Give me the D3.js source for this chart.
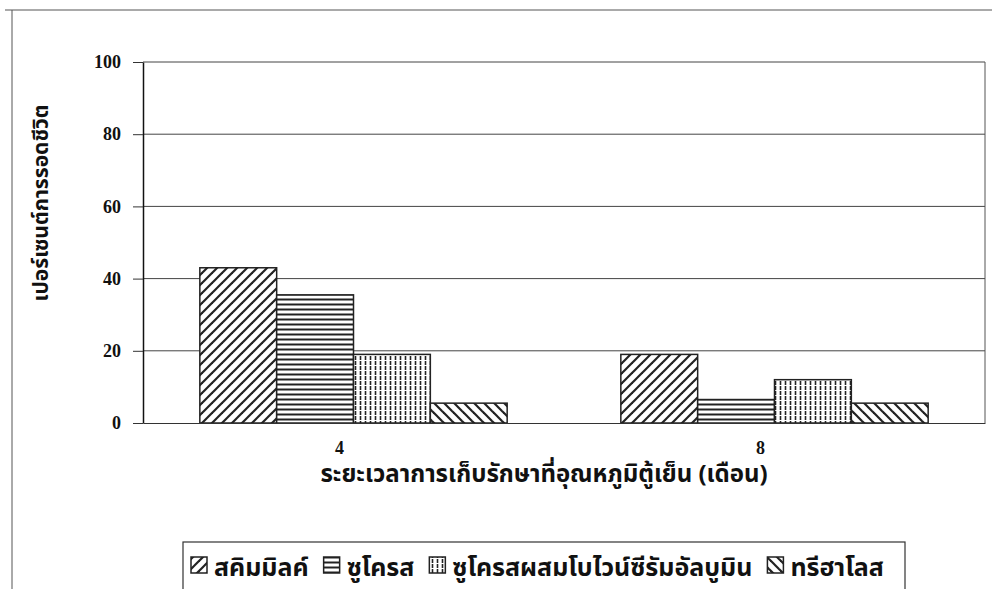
<!DOCTYPE html>
<html>
<head>
<meta charset="utf-8">
<script src="https://cdn.jsdelivr.net/npm/d3@7"></script>
<style>
body { margin: 0; background: #fff; }
svg { display: block; }
</style>
</head>
<body>
<div id="chart"></div>
<script>
// storage time at fridge temperature (months)
months = ["4", "8"]
seriesNames = ["สคิมมิลค์", "ซูโครส", "ซูโครสผสมโบไวน์ซีรัมอัลบูมิน", "ทรีฮาโลส"]
// survival percent per series, one value per month
skimMilk = [43, 19]
sucrose = [35.5, 6.5]
sucroseBsa = [19, 12]
trehalose = [5.5, 5.5]
yTicks = [0, 20, 40, 60, 80, 100]
xTitle = "ระยะเวลาการเก็บรักษาที่อุณหภูมิตู้เย็น (เดือน)"
yTitle = "เปอร์เซนต์การรอดชีวิต"

width = 993
height = 589
var margin = { top: 62, right: 8, bottom: 166, left: 143 }
var serif = "'Liberation Serif', 'Times New Roman', serif"
var thai = "'Noto Sans Thai', 'Noto Sans', 'DejaVu Sans', sans-serif"

var svg = d3.select("#chart").append("svg")
    .attr("width", width).attr("height", height)

var allSeries = [skimMilk, sucrose, sucroseBsa, trehalose]
var patternIds = ["hatchFwd", "hatchH", "hatchV", "hatchBack"]

// hatch patterns, one per series
var defs = svg.append("defs")
function addPattern(id, size, lines, sw, dash) {
    var p = defs.append("pattern").attr("id", id)
        .attr("patternUnits", "userSpaceOnUse")
        .attr("width", size).attr("height", size)
    p.append("rect").attr("width", size).attr("height", size).attr("fill", "#fff")
    lines.forEach(function (l) {
        p.append("line")
            .attr("x1", l[0]).attr("y1", l[1]).attr("x2", l[2]).attr("y2", l[3])
            .attr("stroke", "#222").attr("stroke-width", sw)
            .attr("stroke-dasharray", dash || null)
    })
}
addPattern("hatchFwd", 10, [[0, 10, 10, 0], [-1, 1, 1, -1], [9, 11, 11, 9]], 2.2)
addPattern("hatchH", 5, [[0, 2.5, 5, 2.5]], 2)
addPattern("hatchV", 5, [[2.5, 0, 2.5, 5]], 1.6, "3,1")
addPattern("hatchBack", 10, [[0, 0, 10, 10], [-1, 9, 1, 11], [9, -1, 11, 1]], 2.2)

// outer frame
svg.append("path")
    .attr("d", "M5,10 L992,10 M12,10 L12,589")
    .attr("stroke", "#555").attr("stroke-width", 1).attr("fill", "none")

var plotW = width - margin.left - margin.right
var plotH = height - margin.top - margin.bottom

var g = svg.append("g")
    .attr("transform", "translate(" + margin.left + "," + margin.top + ")")

var x0 = d3.scaleBand().domain(months).range([0, plotW])
    .paddingInner(0.27).paddingOuter(0.135)
var x1 = d3.scaleBand().domain(d3.range(allSeries.length)).range([0, x0.bandwidth()])
var y = d3.scaleLinear().domain([0, 100]).range([plotH, 0])

// gridlines
g.selectAll(".grid").data(yTicks.filter(function (d) { return d > 0 })).enter()
    .append("line")
    .attr("x1", 0).attr("x2", plotW)
    .attr("y1", function (d) { return y(d) }).attr("y2", function (d) { return y(d) })
    .attr("stroke", "#444").attr("stroke-width", 1)

// right border of plot area
g.append("line").attr("x1", plotW).attr("x2", plotW).attr("y1", 0).attr("y2", plotH)
    .attr("stroke", "#555").attr("stroke-width", 1)

// bars
var barData = []
months.forEach(function (m, i) {
    allSeries.forEach(function (s, j) {
        barData.push({ month: m, idx: j, value: s[i] })
    })
})
g.selectAll(".bar").data(barData).enter()
    .append("rect")
    .attr("x", function (d) { return x0(d.month) + x1(d.idx) })
    .attr("width", x1.bandwidth())
    .attr("y", function (d) { return y(d.value) })
    .attr("height", function (d) { return plotH - y(d.value) })
    .attr("fill", function (d) { return "url(#" + patternIds[d.idx] + ")" })
    .attr("stroke", "#222").attr("stroke-width", 1.5)

// y axis
var yAxis = g.append("g")
    .call(d3.axisLeft(y).tickValues(yTicks).tickSize(10).tickSizeOuter(0).tickPadding(12))
yAxis.select(".domain").attr("stroke", "#111").attr("stroke-width", 1.5)
yAxis.selectAll(".tick line").attr("stroke", "#333")
yAxis.selectAll("text")
    .attr("font-family", serif).attr("font-size", 18).attr("font-weight", "bold")
    .attr("fill", "#111")

// x axis (baseline)
var xAxis = g.append("g")
    .attr("transform", "translate(0," + plotH + ")")
    .call(d3.axisBottom(x0).tickSize(0).tickPadding(18))
xAxis.select(".domain").attr("stroke", "#333").attr("stroke-width", 1)
xAxis.selectAll("text")
    .attr("dx", -14)
    .attr("font-family", serif).attr("font-size", 18).attr("font-weight", "bold")
    .attr("fill", "#111")

// axis titles
svg.append("text")
    .attr("x", 544).attr("y", 482)
    .attr("text-anchor", "middle")
    .attr("font-family", thai).attr("font-size", 24).attr("font-weight", "bold")
    .attr("fill", "#111")
    .text(xTitle)

svg.append("text")
    .attr("transform", "translate(48,203) rotate(-90)")
    .attr("text-anchor", "middle")
    .attr("font-family", thai).attr("font-size", 21).attr("font-weight", "bold")
    .attr("fill", "#111")
    .text(yTitle)

// legend
var legend = svg.append("g")
svg.append("rect")
    .attr("x", 183).attr("y", 542).attr("width", 722).attr("height", 52)
    .attr("fill", "none").attr("stroke", "#333").attr("stroke-width", 1.2)
var lx = 191
seriesNames.forEach(function (name, j) {
    legend.append("rect")
        .attr("x", lx).attr("y", 557).attr("width", 16).attr("height", 16)
        .attr("fill", "url(#" + patternIds[j] + ")")
        .attr("stroke", "#222").attr("stroke-width", 1.5)
    var t = legend.append("text")
        .attr("x", lx + 23).attr("y", 576)
        .attr("font-family", thai).attr("font-size", 25).attr("font-weight", "bold")
        .attr("fill", "#111")
        .text(name)
    lx += 23 + t.node().getComputedTextLength() + 15
})
</script>
</body>
</html>
